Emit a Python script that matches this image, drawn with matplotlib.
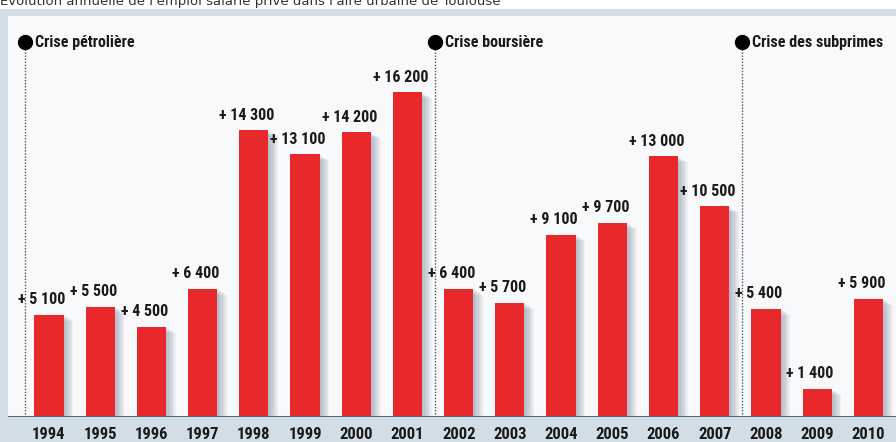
import matplotlib.pyplot as plt
import matplotlib.patheffects as pe
from matplotlib.patches import Rectangle
from matplotlib import font_manager

years = [1994, 1995, 1996, 1997, 1998, 1999, 2000, 2001, 2002,
         2003, 2004, 2005, 2006, 2007, 2008, 2009, 2010]
jobs = [5100, 5500, 4500, 6400, 14300, 13100, 14200, 16200, 6400,
        5700, 9100, 9700, 13000, 10500, 5400, 1400, 5900]
labels = ['+ 5 100', '+ 5 500', '+ 4 500', '+ 6 400', '+ 14 300', '+ 13 100',
          '+ 14 200', '+ 16 200', '+ 6 400', '+ 5 700', '+ 9 100', '+ 9 700',
          '+ 13 000', '+ 10 500', '+ 5 400', '+ 1 400', '+ 5 900']
crisis_years = [1994, 2002, 2008]
crisis_names = ['Crise pétrolière', 'Crise boursière', 'Crise des subprimes']

title = "Évolution annuelle de l'emploi salarié privé dans l'aire urbaine de Toulouse"

RED = '#e8282b'
BAND = '#d2dee6'
PANEL = '#f8f9fb'
BASE = '#4f6878'

installed = {f.name for f in font_manager.fontManager.ttflist}
NARROW = [n for n in ['Roboto Condensed', 'Liberation Sans Narrow']
          if n in installed] + ['DejaVu Sans']

W, H = 896, 442
fig = plt.figure(figsize=(W / 100, H / 100), dpi=100, facecolor=BAND)

# white strip above the frame holding the title
fig.patches.append(Rectangle((0, (H - 9) / H), 1, 9 / H, transform=fig.transFigure,
                             facecolor='white', edgecolor='none'))
fig.text(0.0, (H - 5) / H, title, fontsize=9.5, color='#333333',
         family='DejaVu Sans', va='baseline', ha='left')

ax = fig.add_axes([8 / W, (H - 417) / H, (W - 8) / W, (417 - 16) / H])
ax.set_facecolor(PANEL)
for s in ax.spines.values():
    s.set_visible(False)

x = list(range(len(years)))
shadow = [pe.SimplePatchShadow(offset=(k, -0.6 * k), shadow_rgbFace='#667788', alpha=0.08)
          for k in range(1, 8)] + [pe.Normal()]
bars = ax.bar(x, jobs, width=0.57, color=RED, zorder=3)
for b in bars:
    b.set_path_effects(shadow)

for xi, v, lab in zip(x, jobs, labels):
    ax.annotate(lab, (xi, v), xytext=(-7, 15), textcoords='offset pixels',
                ha='center', va='center', fontsize=11.5, fontweight='bold',
                family=NARROW, color='#1a1a1a', zorder=5)

dot_y = 18700
for cy, name in zip(crisis_years, crisis_names):
    cx = years.index(cy) - 0.47
    ax.plot([cx, cx], [0, dot_y], color='#555555', lw=1, ls=(0, (1, 1.2)), zorder=2)
    ax.plot(cx, dot_y, 'o', color='black', markersize=10, zorder=4)
    ax.annotate(name, (cx, dot_y), xytext=(10, 0), textcoords='offset pixels',
                ha='left', va='center', fontsize=11.5, fontweight='bold',
                family=NARROW, color='#1a1a1a')

ax.axhline(0, color=BASE, lw=2.2, zorder=6)
ax.set_xlim(-0.8, 16.54)
ax.set_ylim(0, 20000)
ax.set_yticks([])
ax.set_xticks(x)
ax.set_xticklabels([str(y) for y in years], fontsize=12, fontweight='bold',
                   family=NARROW, color='#1a1a1a')
ax.tick_params(axis='x', length=0, pad=7)

fig.savefig('out.png', dpi=100)
